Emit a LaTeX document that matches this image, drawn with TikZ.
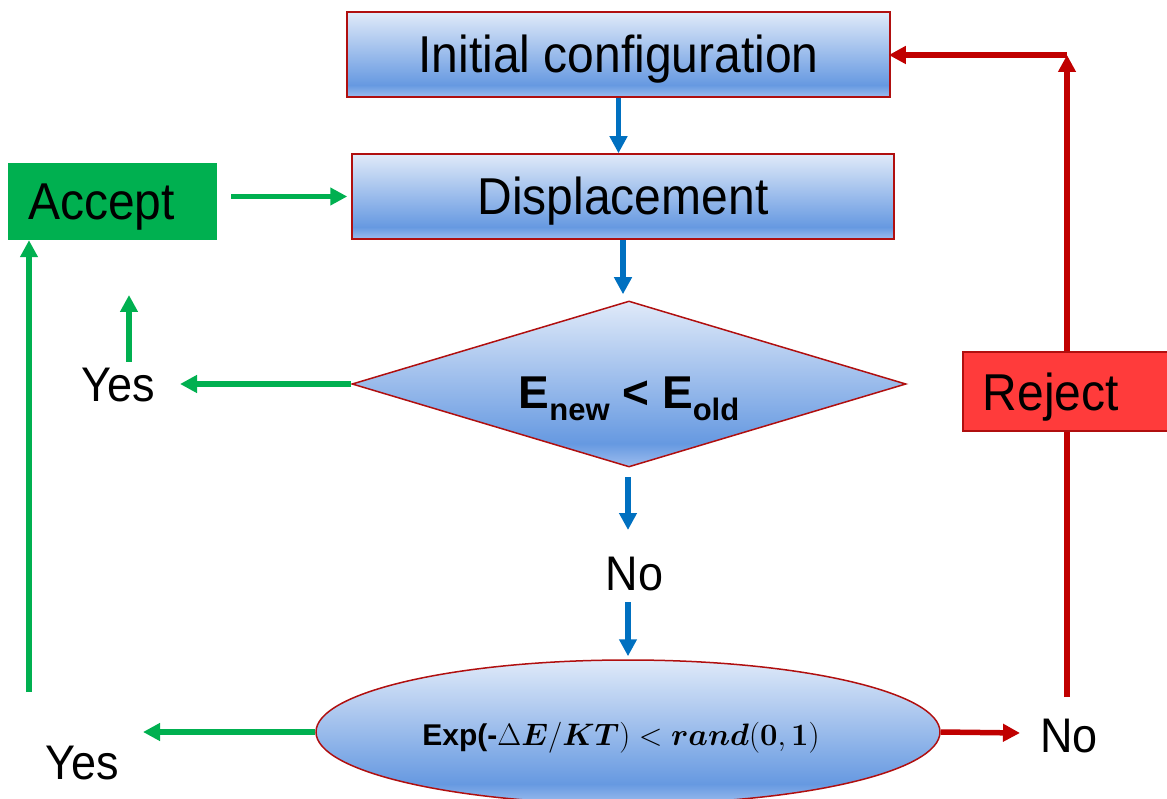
\RequirePackage{fix-cm}
\documentclass[tikz,border=0pt]{standalone}
\usepackage{amsmath}
\usepackage{graphicx}
\usepackage{fontspec}
\setmainfont{Liberation Sans}
\usetikzlibrary{shapes.geometric,arrows.meta}

\definecolor{boxred}{HTML}{B00F0F}
\definecolor{filltop}{HTML}{E0EAF9}
\definecolor{filldeep}{HTML}{6699E1}
\definecolor{fillbot}{HTML}{9DBDEE}
\definecolor{flowblue}{HTML}{0070C0}
\definecolor{flowgreen}{HTML}{00B050}
\definecolor{flowred}{HTML}{C00000}
\definecolor{rejectred}{HTML}{FF3B3B}

% vertical blue gradient used by the process shapes (0bp = bottom)
\pgfdeclareverticalshading{flowfill}{100bp}{%
  color(0bp)=(fillbot); color(25bp)=(fillbot); color(32bp)=(filldeep);
  color(75bp)=(filltop); color(100bp)=(filltop)}

% slightly tall lettering
\newcommand{\tallword}[1]{\scalebox{1}[1.08]{#1}}

\tikzset{
  flowbox/.style={draw=boxred, line width=1.5pt, shading=flowfill, inner sep=0pt},
  bigtext/.style={font=\fontsize{48}{52}\selectfont, text height=37pt, text depth=0pt},
  labeltext/.style={font=\fontsize{45}{50}\selectfont, inner sep=0pt},
  tip/.style={-{Triangle[length=17pt,width=17pt]}},
  blueflow/.style={draw=flowblue, line width=5.5pt, tip},
  greenflow/.style={draw=flowgreen, line width=5.5pt, tip},
  redflow/.style={draw=flowred, line width=5.5pt, tip},
  redline/.style={draw=flowred, line width=5.5pt},
}

\begin{document}
\begin{tikzpicture}[x=1pt,y=-1pt]
\clip (0,0) rectangle (1167,799);

% process shapes
\node[flowbox, rectangle, minimum width=543, minimum height=85, bigtext] (init) at (618.5,54.5) {\tallword{Initial configuration}};
\node[flowbox, rectangle, minimum width=542, minimum height=85, bigtext] (disp) at (623,196.5) {\tallword{Displacement}};
\node[flowbox, diamond, aspect=3.34, minimum width=554, minimum height=166] (dec) at (629,384) {};
\node[font=\bfseries\fontsize{46}{50}\selectfont, anchor=base, inner sep=0pt] (dectext) at (629,408)
  {E\raisebox{-12pt}{\fontsize{31}{31}\selectfont new} < E\raisebox{-12pt}{\fontsize{31}{31}\selectfont old}};
\node[flowbox, ellipse, minimum width=624, minimum height=144] (ell) at (628,732) {};
\node[inner sep=0pt] (elltext) at (621,738)
  {{\fontsize{30}{34}\selectfont\bfseries Exp(-}{\fontsize{31}{35}\selectfont$\Delta\boldsymbol{E}/\boldsymbol{KT}) < \boldsymbol{rand}(\boldsymbol{0},\boldsymbol{1})$}};

% outcome boxes
\node[fill=flowgreen, rectangle, minimum height=77, inner xsep=20, inner ysep=0, text width=169, align=left, bigtext] (accept) at (112.5,201.5) {\tallword{Accept}};
\node[fill=rejectred, draw=boxred, line width=1.5pt, rectangle, minimum height=79, inner xsep=20, inner ysep=0, text width=200, align=left, bigtext, anchor=west] (reject) at (962,391.5) {\tallword{Reject}};

% branch labels
\node[labeltext] (yes1) at (118,385.5) {\tallword{Yes}};
\node[labeltext] (no1) at (634.5,574.5) {\tallword{No}};
\node[labeltext] (yes2) at (82.5,763.5) {\tallword{Yes}};
\node[labeltext] (no2) at (1069,736.5) {\tallword{No}};

% free ends of the connectors
\coordinate (noAtop) at (628,477);
\coordinate (noAbot) at (628,530);
\coordinate (noBtop) at (628,602);
\coordinate (yesAtip) at (180,384);
\coordinate (yesAlow) at (129,362);
\coordinate (yesAhigh) at (129,295);
\coordinate (yesBtip) at (143,732);
\coordinate (leftcol) at (29,692);
\coordinate (noBtip) at (1020,733);
\coordinate (rightcol) at (1067,697);
\coordinate (corner) at (1067,55);

% main flow
\draw[blueflow] (init.south) -- (init.south |- disp.north);
\draw[blueflow, shorten >=6pt] (disp.south) -- (disp.south |- dec.north);
\draw[blueflow] (noAtop) -- (noAbot);
\draw[blueflow, shorten >=3pt] (noBtop) -- (noBtop |- ell.north);

% accept branch
\draw[greenflow, shorten <=14pt, shorten >=4pt] (accept.east |- disp.west) -- (disp.west);
\draw[greenflow] (dec.west) -- (yesAtip);
\draw[greenflow] (yesAlow) -- (yesAhigh);
\draw[greenflow] (ell.west) -- (yesBtip);
\draw[greenflow] (leftcol) -- (leftcol |- accept.south);

% reject branch
\draw[redflow] (ell.east) -- (noBtip);
\draw[redline] (rightcol) -- (rightcol |- reject.south);
\draw[redflow] (rightcol |- reject.north) -- (corner);
\draw[redflow, shorten >=-2pt] (corner) -- (corner -| init.east);
\end{tikzpicture}
\end{document}
